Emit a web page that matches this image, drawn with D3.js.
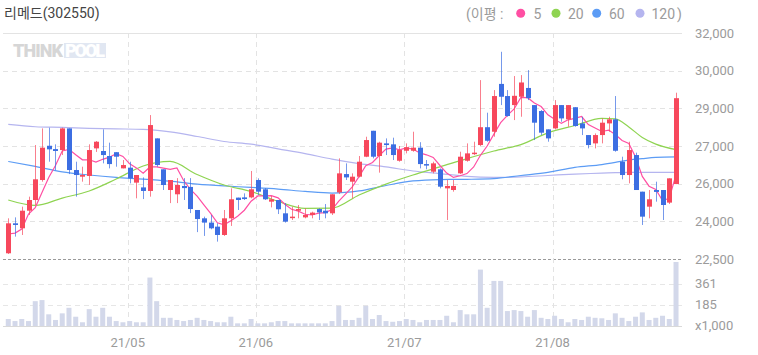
<!DOCTYPE html>
<html><head><meta charset="utf-8">
<script src="https://cdn.jsdelivr.net/npm/d3@7"></script>
<style>
html,body{margin:0;padding:0;background:#fff;}
svg{display:block;font-family:Roboto,"Noto Sans CJK KR","Noto Sans",sans-serif;}
</style></head><body><svg id="c" width="758" height="355"></svg>
<script>
const title = "리메드(302550)";
const dates = ["04-07","04-08","04-09","04-12","04-13","04-14","04-15","04-16","04-19","04-20","04-21","04-22","04-23","04-26","04-27","04-28","04-29","04-30",
"05-03","05-04","05-06","05-07","05-10","05-11","05-12","05-13","05-14","05-17","05-18","05-20","05-21","05-24","05-25","05-26","05-27","05-28","05-31",
"06-01","06-02","06-03","06-04","06-07","06-08","06-09","06-10","06-11","06-14","06-15","06-16","06-17","06-18","06-21","06-22","06-23","06-24","06-25","06-28","06-29","06-30",
"07-01","07-02","07-05","07-06","07-07","07-08","07-09","07-12","07-13","07-14","07-15","07-16","07-19","07-20","07-21","07-22","07-23","07-26","07-27","07-28","07-29","07-30",
"08-02","08-03","08-04","08-05","08-06","08-09","08-10","08-11","08-12","08-13","08-17","08-18","08-19","08-20","08-23","08-24","08-25","08-26","08-27"];
const open = [22740,24000,23790,24530,24980,25820,27260,27120,27080,27990,26240,25960,25990,27150,27040,26830,26990,26310,26340,25710,
25510,25360,27570,26270,25400,25220,25570,25530,24560,24210,24030,23860,23510,24210,25080,25090,25090,25820,25430,24910,
24980,24420,24220,24530,24250,24350,24600,24530,24420,25300,26070,25750,25960,26800,27890,26830,27360,27320,26630,27050,
27050,27180,26490,26170,26270,25470,25400,26100,26630,26910,27290,28040,27850,29860,29350,28970,29320,29690,28970,28720,
27950,27990,28970,28370,28880,28200,27710,27360,27710,28200,28370,26590,26030,26870,25330,24700,25400,25400,24870,25650];
const high = [24210,24250,24700,25120,27290,27990,28020,27320,28020,27990,26590,26380,27320,27460,27950,27390,26990,26660,26590,26030,
25930,28550,27570,26270,25820,25900,25900,25900,24560,24280,24350,24000,24560,25470,25080,25260,26200,25890,25480,25150,
24980,24850,24700,24770,24630,24490,24630,24810,25220,26730,26520,26100,26830,27640,27890,27430,27570,27600,27250,27360,
27850,27410,26660,26590,26310,25820,25820,27010,27360,27430,30020,28650,29600,31210,29600,30190,30230,30440,28970,28760,
27950,29180,28970,28970,28880,28480,27710,27780,28410,28480,29350,26800,27430,26970,25330,25400,25750,25400,25890,29490];
const low = [22710,23440,23510,24350,24770,25750,26590,26240,26870,26070,25120,25750,25610,27000,26520,26310,26380,26310,25680,25050,
25020,25120,26380,25400,24850,24850,24980,24430,23630,23470,23750,23230,23470,23890,24560,24980,25050,25190,24980,24670,
24390,24030,24140,24210,24210,24210,24140,24210,24350,25230,25820,25050,25930,26780,26730,26130,26870,26660,26590,26940,
27010,26310,26270,26100,25470,24140,25330,26070,26590,26870,27250,27430,27640,28970,28480,28340,28480,29180,27500,27710,
27430,27950,28270,28060,28060,27710,27150,27150,27360,27850,27010,25850,25680,25400,23930,24210,24910,24140,24810,25650];
const close = [24000,23930,24530,24980,25850,27180,27110,27040,27990,26240,26030,26030,27080,27430,26870,26490,26800,26450,25890,26030,
25360,28130,26450,25610,25820,25610,25480,24600,24180,24030,23790,23510,24210,25010,24980,25020,25430,25330,25010,25010,
24590,24070,24280,24600,24350,24450,24460,24420,25220,26100,25930,25960,26590,27500,26800,27390,27290,26870,27080,27200,
27180,26490,26440,26520,25540,25570,25570,26800,26940,26970,28040,27470,29350,29320,28510,29360,29920,29260,28230,27810,
27570,28970,28410,28970,28090,27990,27290,27710,28230,28370,27050,26030,27080,25400,24280,25010,25320,24770,25890,29260];
const volume = [67,50,67,50,215,224,106,59,114,160,86,40,149,86,160,86,50,40,50,40,
40,411,215,77,77,59,50,59,77,59,50,40,40,86,31,31,67,31,31,40,
50,50,31,31,31,31,31,31,50,176,59,59,77,176,67,100,50,44,50,67,
59,40,59,59,59,94,40,141,106,106,477,160,383,383,133,141,133,86,141,77,
67,94,67,40,67,59,86,77,73,59,114,77,50,86,122,59,77,94,67,540];
const ma5 = [23550,23590,23760,24390,24660,25300,25930,26430,27040,27110,26880,26670,26670,26570,26690,26780,26930,26810,26500,26330,
26110,26370,26370,26320,26270,26330,25800,25430,25140,24780,24420,24020,23940,24110,24300,24550,24930,25150,25150,25160,
25070,24800,24590,24510,24380,24350,24430,24450,24580,24930,25230,25530,25960,26420,26560,26850,27120,27170,27090,27170,
27120,26960,26880,26770,26430,26110,25930,26000,26090,26370,26860,27250,27750,28230,28540,28810,29290,29280,29060,28910,
28560,28370,28200,28350,28410,28490,28150,28010,27860,27920,27730,27480,27360,26790,25970,25560,25420,24960,25050,26050];
const maIdx = [0,4,8,12,16,20,24,28,32,36,40,44,48,52,56,60,64,68,72,76,80,84,88,90,92,94,96,99];
const ma20 = [24980,24750,25060,25360,25860,26410,26600,26050,25610,25340,24920,24630,24640,25190,25650,26030,26370,26720,27040,27310,27800,28110,28410,28390,28050,27610,27330,27100];
const ma60 = [26600,26390,26160,26030,25930,25860,25770,25650,25570,25510,25440,25340,25270,25360,25590,25780,25840,25850,25880,26010,26140,26350,26470,26560,26660,26720,26770,26790];
const ma120 = [28160,28060,28030,27990,27970,27950,27840,27650,27440,27330,27130,26930,26700,26510,26370,26200,26090,25970,25930,25950,26010,26070,26110,26130,26140,26140,26140,26140];
const priceTickLabels = ["22,500","24,000","26,000","27,000","29,000","30,000","32,000"];
const volTicks = [185, 361];
const volUnit = "x1,000";
const monthStarts = ["05-03","06-01","07-01","08-02"];
const monthLabels = ["21/05","21/06","21/07","21/08"];
const legendPrefix = "(이평 :";
const legendNames = ["5","20","60","120"];
const legendColors = ["#ff4fa3","#8fd452","#5c9cf5","#b5b5ef"];

const svg = d3.select("#c");
const X0 = 3, X1 = 682;
const x = d3.scalePoint().domain(dates).range([4.9, 679.4]).padding(0.5);
const y = d3.scaleLinear().domain([22500, 32000]).range([259, 33]);
const vy = d3.scaleLinear().domain([9, 540]).range([326, 262]);
const priceTicks = d3.range(priceTickLabels.length).map(k => 22500 + k * (32000 - 22500) / (priceTickLabels.length - 1));

// watermark
const wm = svg.append("g");
wm.append("text").attr("x", 13).attr("y", 57).attr("font-size", 18).attr("font-weight", 900)
  .attr("fill", "#d6d6d6").attr("textLength", 50).text("THINK");
wm.append("rect").attr("x", 64).attr("y", 43).attr("width", 42).attr("height", 15).attr("fill", "#e1e7f2");
wm.append("text").attr("x", 65).attr("y", 57).attr("font-size", 18).attr("font-weight", 900)
  .attr("fill", "#ffffff").attr("textLength", 40).text("POOL");

// grid
const grid = svg.append("g");
grid.selectAll("line.h").data(priceTicks).join("line")
  .attr("x1", X0).attr("x2", X1)
  .attr("y1", d => Math.round(y(d)) + 0.5).attr("y2", d => Math.round(y(d)) + 0.5)
  .attr("stroke", (d, i) => i === 0 ? "#9a9a9a" : "#e3e3e3")
  .attr("stroke-dasharray", (d, i) => i === priceTicks.length - 1 ? null : (i === 0 ? "3,2" : "5,4"));
grid.selectAll("line.v").data(volTicks).join("line")
  .attr("x1", X0).attr("x2", X1)
  .attr("y1", d => Math.round(vy(d)) + 0.5).attr("y2", d => Math.round(vy(d)) + 0.5)
  .attr("stroke", "#e6e6e6").attr("stroke-dasharray", "5,4");
grid.append("line").attr("x1", X0).attr("x2", X1).attr("y1", 326.5).attr("y2", 326.5).attr("stroke", "#d9d9d9");
grid.selectAll("line.m").data(monthStarts).join("line")
  .attr("x1", d => Math.round(x(d) - 2) + 0.5).attr("x2", d => Math.round(x(d) - 2) + 0.5)
  .attr("y1", 33).attr("y2", 330)
  .attr("stroke", "#e3e3e3").attr("stroke-dasharray", "5,4");

// volume
svg.append("g").selectAll("rect").data(volume).join("rect")
  .attr("x", (d, i) => x(dates[i]) - 2.5).attr("width", 5)
  .attr("y", d => vy(d)).attr("height", d => 326 - vy(d))
  .attr("fill", "#d3d8ea");

// moving averages
const lineSparse = d3.line().x(d => x(dates[d[0]])).y(d => y(d[1])).curve(d3.curveMonotoneX);
const maG = svg.append("g").attr("fill", "none").attr("stroke-width", 1.2);
[[ma120, legendColors[3]], [ma60, legendColors[2]], [ma20, legendColors[1]]].forEach(([arr, col]) => {
  maG.append("path").attr("d", lineSparse(maIdx.map((k, j) => [k, arr[j]]))).attr("stroke", col);
});
maG.append("path").attr("d", d3.line().x((d, i) => x(dates[i])).y(d => y(d))(ma5))
  .attr("stroke", legendColors[0]);

// candles
const UP = "#f7485c", DN = "#3c6ee2";
const cg = svg.append("g");
const idx = d3.range(dates.length);
cg.selectAll("line").data(idx).join("line")
  .attr("x1", i => Math.round(x(dates[i])) + 0.5).attr("x2", i => Math.round(x(dates[i])) + 0.5)
  .attr("y1", i => y(high[i])).attr("y2", i => y(low[i]))
  .attr("stroke", i => close[i] >= open[i] ? UP : DN).attr("stroke-opacity", 0.7);
cg.selectAll("rect").data(idx).join("rect")
  .attr("x", i => Math.round(x(dates[i])) - 2).attr("width", 5)
  .attr("y", i => y(Math.max(open[i], close[i])))
  .attr("height", i => Math.max(1.5, Math.abs(y(open[i]) - y(close[i]))))
  .attr("fill", i => close[i] >= open[i] ? UP : DN);

// axes
const ax = svg.append("g").attr("transform", "translate(695,0)")
  .call(d3.axisRight(y).tickValues(priceTicks).tickFormat((d, i) => priceTickLabels[i]).tickSize(0).tickPadding(0));
const vax = svg.append("g").attr("transform", "translate(695,0)")
  .call(d3.axisRight(vy).tickValues(volTicks).tickFormat(d3.format("d")).tickSize(0).tickPadding(0));
[ax, vax].forEach(g => {
  g.select(".domain").remove();
  g.selectAll("text").attr("fill", "#9b9b9b").attr("font-size", 13).attr("font-family", "Roboto,'Noto Sans',sans-serif");
});
svg.append("text").attr("x", 695).attr("y", 326).attr("dy", "0.32em").attr("font-size", 13)
  .attr("fill", "#9b9b9b").text(volUnit);
svg.append("g").selectAll("text").data(monthStarts).join("text")
  .attr("x", d => x(d) - 2).attr("y", 347).attr("text-anchor", "middle")
  .attr("font-size", 13).attr("fill", "#9b9b9b").text((d, i) => monthLabels[i]);

// title & legend
svg.append("text").attr("x", 4).attr("y", 17.5).attr("font-size", 14).attr("fill", "#444").text(title);
const lg = svg.append("g").attr("font-size", 14).attr("fill", "#9b9b9b");
lg.append("text").attr("x", 466).attr("y", 18.5).text(legendPrefix);
const dotX = [520.7, 556, 596.7, 640];
const txtX = [533.5, 568, 609, 651.5];
legendNames.forEach((n, i) => {
  lg.append("circle").attr("cx", dotX[i]).attr("cy", 13.3).attr("r", 4.5).attr("fill", legendColors[i]);
  lg.append("text").attr("x", txtX[i]).attr("y", 18.5).text(n);
});
lg.append("text").attr("x", 677).attr("y", 18.5).text(")");
</script></body></html>
